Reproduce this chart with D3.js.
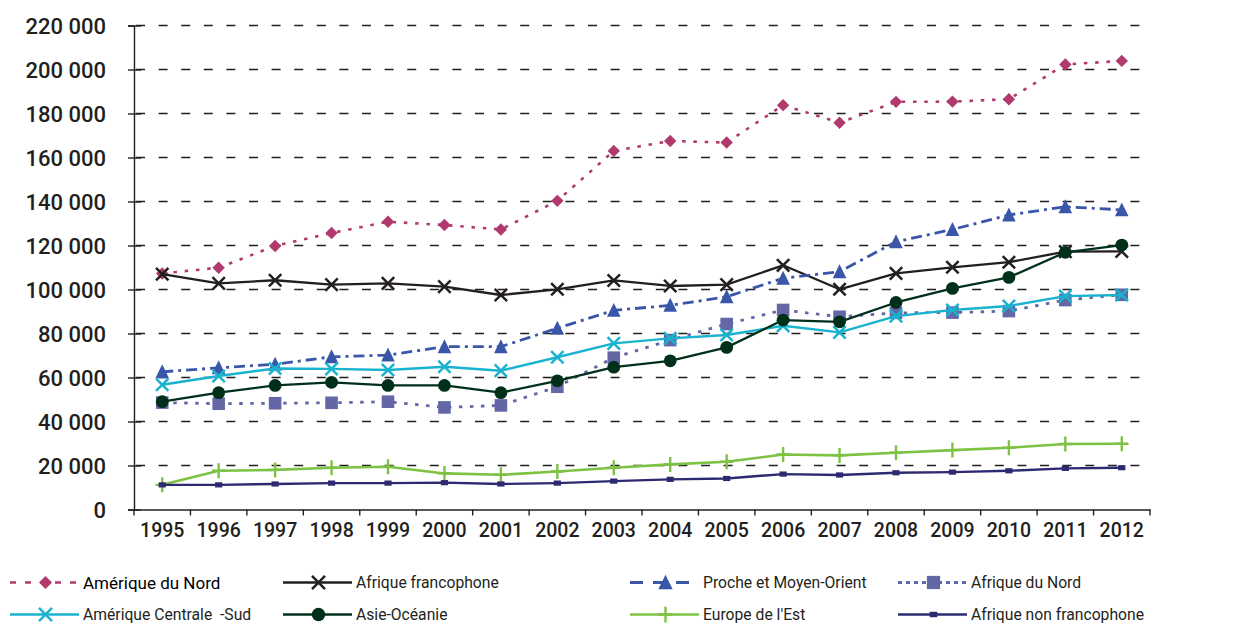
<!DOCTYPE html>
<html>
<head>
<meta charset="utf-8">
<script src="https://cdn.jsdelivr.net/npm/d3@7"></script>
<style>
  html, body { margin: 0; padding: 0; background: #fff; }
  svg { display: block; }
  text { font-family: Roboto, "Noto Sans", sans-serif; white-space: pre; }
</style>
</head>
<body>
<script>
const years = ["1995","1996","1997","1998","1999","2000","2001","2002","2003","2004","2005","2006","2007","2008","2009","2010","2011","2012"];
const yTicks = [0,20000,40000,60000,80000,100000,120000,140000,160000,180000,200000,220000];

const ameriqueNord     = [107300,109900,119800,125700,130800,129300,127300,140300,163000,167500,166800,183800,175800,185300,185400,186500,202300,203900];
const afriqueFranco    = [107000,102800,104200,102200,102800,101300,97500,100100,104100,101600,102200,111000,100100,107300,110100,112400,117200,117300];
const procheMoyen      = [62600,64400,66000,69400,70200,74000,74000,82400,90500,92800,96700,105100,108100,121700,127300,133900,137600,136200];
const afriqueNord      = [48600,48100,48300,48500,49000,46400,47300,55800,69000,77000,84300,90700,87600,89400,89500,90200,95200,97600];
const ameriqueCentrale = [56700,60700,64100,63900,63400,64900,63100,69200,75500,77800,79300,83500,80500,87900,90700,92500,97000,97500];
const asieOceanie      = [49000,53100,56400,57800,56400,56400,53100,58500,64700,67600,73700,86100,85300,94100,100500,105500,116900,120200];
const europeEst        = [11200,17600,18000,19000,19400,16400,15800,17300,19000,20500,21700,25000,24600,25800,27000,28100,29800,29900];
const afriqueNonFranco = [11200,11200,11600,12000,12000,12200,11600,12000,12900,13700,14100,16100,15700,16700,17000,17600,18700,19000];

const seriesNames = ["Amérique du Nord","Afrique francophone","Proche et Moyen-Orient","Afrique du Nord","Amérique Centrale  -Sud","Asie-Océanie","Europe de l'Est","Afrique non francophone"];
const seriesValues = [ameriqueNord, afriqueFranco, procheMoyen, afriqueNord, ameriqueCentrale, asieOceanie, europeEst, afriqueNonFranco];

const styles = [
  {color:"#b03a6e", dash:"3.5,7.8", width:2.6, marker:"diamond", legendDash:"6,9"},
  {color:"#231f20", dash:null, width:2.3, marker:"x"},
  {color:"#3a56a8", dash:"11,5,3,5", width:2.8, marker:"triangle", legendDash:"13,10"},
  {color:"#6467a6", dash:"3.5,7.5", width:2.8, marker:"square", legendDash:"4,4"},
  {color:"#1ab3cf", dash:null, width:2.4, marker:"x"},
  {color:"#00301a", dash:null, width:2.3, marker:"circle"},
  {color:"#7dc242", dash:null, width:2.6, marker:"plus"},
  {color:"#2e2a72", dash:null, width:2.4, marker:"smallsquare"}
];

const W = 1244, H = 626;
const svg = d3.select("body").append("svg").attr("width", W).attr("height", H);

const x = d3.scaleBand().domain(years).range([134, 1150]).padding(0);
const y = d3.scaleLinear().domain([0, 220000]).range([509.5, 25.5]);
const cx = d => x(d) + x.bandwidth() / 2;

const fmt = d3.formatLocale({decimal: ",", thousands: " ", grouping: [3], currency: ["", ""]}).format(",d");

// gridlines
svg.append("g").selectAll("line").data(yTicks.filter(d => d > 0)).join("line")
  .attr("x1", 136).attr("x2", 1150)
  .attr("y1", d => y(d)).attr("y2", d => y(d))
  .attr("stroke", "#231f20").attr("stroke-width", 1.3)
  .attr("stroke-dasharray", "9,13.6");

// y axis
const yAxis = svg.append("g").attr("transform", "translate(134,0)")
  .call(d3.axisLeft(y).tickValues(yTicks).tickFormat(fmt).tickSize(6).tickPadding(22));
yAxis.select(".domain").attr("stroke", "#231f20").attr("stroke-width", 1.4);
yAxis.selectAll(".tick line").attr("stroke", "#231f20").attr("stroke-width", 1.4).attr("x1", 7);
yAxis.selectAll(".tick text").attr("font-size", 22).attr("font-weight", 500).attr("fill", "#231f20").attr("dy", "0.35em");

// x axis
const xAxis = svg.append("g").attr("transform", "translate(0,509.5)")
  .call(d3.axisBottom(x).tickSize(0).tickPadding(14));
xAxis.select(".domain").attr("stroke", "#231f20").attr("stroke-width", 1.4);
xAxis.selectAll(".tick text").attr("font-size", 19.5).attr("font-weight", 500).attr("fill", "#231f20").attr("dy", "0.71em");
const bounds = years.map(d => x(d)).concat([x(years[years.length-1]) + x.bandwidth()]);
xAxis.append("g").selectAll("line").data(bounds).join("line")
  .attr("x1", d => d).attr("x2", d => d).attr("y1", 0).attr("y2", 6)
  .attr("stroke", "#231f20").attr("stroke-width", 1.4);

function drawMarker(g, type, color, px, py, scale) {
  const s = scale || 1;
  if (type === "diamond") {
    const r = 6.2 * s;
    g.append("path").attr("d", `M${px},${py-r}L${px+r},${py}L${px},${py+r}L${px-r},${py}Z`).attr("fill", color);
  } else if (type === "x") {
    const r = 6.2 * s;
    g.append("path").attr("d", `M${px-r},${py-r}L${px+r},${py+r}M${px-r},${py+r}L${px+r},${py-r}`)
      .attr("stroke", color).attr("stroke-width", 2.5).attr("fill", "none");
  } else if (type === "triangle") {
    const r = 6.8 * s;
    g.append("path").attr("d", `M${px},${py-r*1.1}L${px+r},${py+r*0.95}L${px-r},${py+r*0.95}Z`).attr("fill", color);
  } else if (type === "square") {
    const r = 6.3 * s;
    g.append("rect").attr("x", px-r).attr("y", py-r).attr("width", 2*r).attr("height", 2*r).attr("fill", color);
  } else if (type === "circle") {
    g.append("circle").attr("cx", px).attr("cy", py).attr("r", 6.4 * s).attr("fill", color);
  } else if (type === "plus") {
    const r = 7.5 * s;
    g.append("path").attr("d", `M${px},${py-r}L${px},${py+r}M${px-r*0.9},${py}L${px+r*0.9},${py}`)
      .attr("stroke", color).attr("stroke-width", 2.4).attr("fill", "none");
  } else if (type === "smallsquare") {
    g.append("rect").attr("x", px-3.6*s).attr("y", py-2.6*s).attr("width", 7.2*s).attr("height", 5.2*s).attr("fill", color);
  }
}

const line = d3.line().x((d, i) => cx(years[i])).y(d => y(d));

seriesValues.forEach((vals, k) => {
  const st = styles[k];
  const g = svg.append("g");
  g.append("path").datum(vals).attr("d", line)
    .attr("fill", "none").attr("stroke", st.color).attr("stroke-width", st.width)
    .attr("stroke-dasharray", st.dash).attr("stroke-linejoin", "round");
  vals.forEach((v, i) => drawMarker(g, st.marker, st.color, cx(years[i]), y(v)));
});

// legend
const legendCols = [10, 283, 630, 898];
const legendRows = [582.5, 614.5];
const legendOrder = [[0,1,2,3],[4,5,6,7]];
legendOrder.forEach((row, ri) => {
  row.forEach((k, ci) => {
    const st = styles[k];
    const lx = legendCols[ci], ly = legendRows[ri];
    const g = svg.append("g");
    g.append("line").attr("x1", lx).attr("x2", lx + 69).attr("y1", ly).attr("y2", ly)
      .attr("stroke", st.color).attr("stroke-width", st.width)
      .attr("stroke-dasharray", st.legendDash || st.dash);
    drawMarker(g, st.marker, st.color, lx + 35.5, ly, 1.05);
    g.append("text").attr("x", lx + 73).attr("y", ly).attr("dy", "0.36em")
      .attr("font-size", k === 0 ? 17 : 15.7)
      .attr("fill", k === 0 ? "#000" : "#231f20")
      .text(seriesNames[k]);
  });
});
</script>
</body>
</html>
